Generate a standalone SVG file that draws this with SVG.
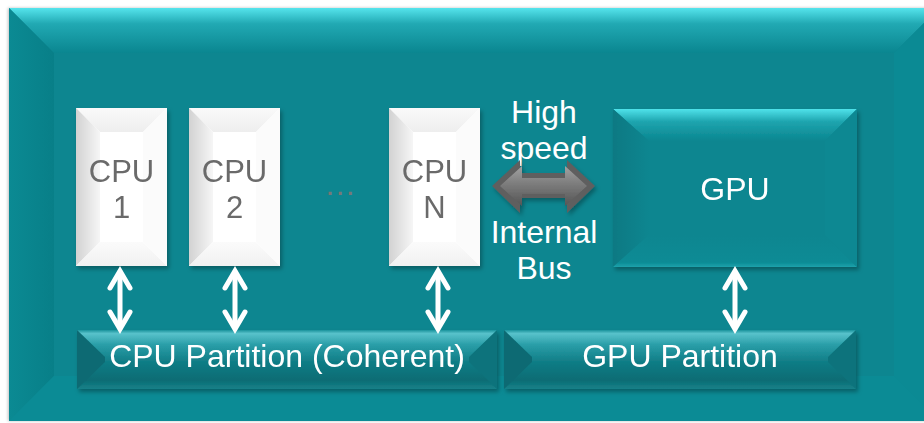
<svg xmlns="http://www.w3.org/2000/svg" xmlns:xlink="http://www.w3.org/1999/xlink" width="924" height="423" viewBox="0 0 924 423">
<defs>
<style>
.t{font-family:"Liberation Sans",Arial,sans-serif;font-size:32px;text-anchor:middle;fill:#ffffff}
.cpu{font-family:"Liberation Sans",Arial,sans-serif;font-size:31px;text-anchor:middle;fill:#6b6b6b}
.dots{font-family:"Liberation Sans",Arial,sans-serif;font-size:32px;text-anchor:middle;fill:#777777}
.wa{fill:none;stroke:#ffffff;stroke-width:5;stroke-linecap:round;stroke-linejoin:miter}
</style>
<linearGradient id="panelTop" x1="0" y1="0" x2="0" y2="1">
<stop offset="0" stop-color="#55e4ec"/><stop offset="0.35" stop-color="#21a9b3"/><stop offset="1" stop-color="#0a8690"/>
</linearGradient>
<linearGradient id="panelLeft" x1="0" y1="0" x2="1" y2="0">
<stop offset="0" stop-color="#0b8a93"/><stop offset="1" stop-color="#087f88"/>
</linearGradient>
<linearGradient id="whiteLeft" x1="0" y1="0" x2="1" y2="0">
<stop offset="0" stop-color="#d2d2d2"/><stop offset="1" stop-color="#f6f6f6"/>
</linearGradient>
<linearGradient id="whiteTop" x1="0" y1="0" x2="0" y2="1">
<stop offset="0" stop-color="#fafafa"/><stop offset="1" stop-color="#eeeeee"/>
</linearGradient>
<linearGradient id="whiteBottom" x1="0" y1="0" x2="0" y2="1">
<stop offset="0" stop-color="#fbfbfb"/><stop offset="1" stop-color="#f1f1f1"/>
</linearGradient>
<linearGradient id="gpuTop" x1="0" y1="0" x2="0" y2="1">
<stop offset="0" stop-color="#4fe2ea"/><stop offset="0.4" stop-color="#1ea4ae"/><stop offset="1" stop-color="#0a8690"/>
</linearGradient>
<linearGradient id="gpuLeft" x1="0" y1="0" x2="1" y2="0">
<stop offset="0" stop-color="#077983"/><stop offset="1" stop-color="#0a8690"/>
</linearGradient>
<linearGradient id="gpuBottom" x1="0" y1="0" x2="0" y2="1">
<stop offset="0" stop-color="#0a8690"/><stop offset="0.85" stop-color="#0c8b95"/><stop offset="1" stop-color="#1ca2ab"/>
</linearGradient>
<linearGradient id="bar" x1="0" y1="0" x2="0" y2="1">
<stop offset="0" stop-color="#1b939c"/><stop offset="0.06" stop-color="#58c2cb"/><stop offset="0.25" stop-color="#2a9ea8"/><stop offset="0.55" stop-color="#0f7c85"/><stop offset="0.85" stop-color="#0a6c74"/><stop offset="1" stop-color="#178189"/>
</linearGradient>
<linearGradient id="busFill" x1="0" y1="0" x2="0" y2="1">
<stop offset="0" stop-color="#a2a2a2"/><stop offset="0.45" stop-color="#7c7c7c"/><stop offset="1" stop-color="#555555"/>
</linearGradient>
<filter id="sh" x="-10%" y="-10%" width="130%" height="130%">
<feDropShadow dx="2" dy="3" stdDeviation="2" flood-color="#000000" flood-opacity="0.3"/>
</filter>
<filter id="psh" x="-5%" y="-5%" width="110%" height="110%">
<feDropShadow dx="-1" dy="0" stdDeviation="1.5" flood-color="#000000" flood-opacity="0.25"/>
</filter>
<g id="varrow">
<line class="wa" x1="0" y1="272" x2="0" y2="328"/>
<polyline class="wa" points="-10,288 0,271 10,288"/>
<polyline class="wa" points="-10,312 0,329 10,312"/>
</g>
</defs>

<!-- outer panel -->
<g id="panel">
<rect x="9" y="8" width="930" height="413" fill="#0a8690" filter="url(#psh)"/>
<polygon points="9,8 939,8 894,53 54,53" fill="url(#panelTop)"/>
<polygon points="9,8 54,53 54,376 9,421" fill="url(#panelLeft)"/>
<polygon points="939,8 894,53 894,376 939,421" fill="#0b8a94"/>
<polygon points="9,421 54,376 894,376 939,421" fill="#0b8b95"/>
</g>

<!-- CPU boxes -->
<g id="cpu1" filter="url(#sh)">
<rect x="76" y="108" width="91" height="158" fill="#ffffff"/>
<polygon points="76,108 167,108 143,132 100,132" fill="url(#whiteTop)"/>
<polygon points="76,108 100,132 100,242 76,266" fill="url(#whiteLeft)"/>
<polygon points="76,266 100,242 143,242 167,266" fill="url(#whiteBottom)"/>
<polygon points="167,108 143,132 143,242 167,266" fill="#fbfbfb"/>
<text class="cpu" x="121.5" y="182">CPU</text>
<text class="cpu" x="121.5" y="218">1</text>
</g>
<g id="cpu2" filter="url(#sh)">
<rect x="189" y="108" width="91" height="158" fill="#ffffff"/>
<polygon points="189,108 280,108 256,132 213,132" fill="url(#whiteTop)"/>
<polygon points="189,108 213,132 213,242 189,266" fill="url(#whiteLeft)"/>
<polygon points="189,266 213,242 256,242 280,266" fill="url(#whiteBottom)"/>
<polygon points="280,108 256,132 256,242 280,266" fill="#fbfbfb"/>
<text class="cpu" x="234.5" y="182">CPU</text>
<text class="cpu" x="234.5" y="218">2</text>
</g>
<g id="ellipsis">
<text class="dots" x="340" y="195">…</text>
</g>
<g id="cpuN" filter="url(#sh)">
<rect x="389" y="108" width="91" height="158" fill="#ffffff"/>
<polygon points="389,108 480,108 456,132 413,132" fill="url(#whiteTop)"/>
<polygon points="389,108 413,132 413,242 389,266" fill="url(#whiteLeft)"/>
<polygon points="389,266 413,242 456,242 480,266" fill="url(#whiteBottom)"/>
<polygon points="480,108 456,132 456,242 480,266" fill="#fbfbfb"/>
<text class="cpu" x="434.5" y="182">CPU</text>
<text class="cpu" x="434.5" y="218">N</text>
</g>

<!-- GPU -->
<g id="gpu" filter="url(#sh)">
<rect x="613" y="109" width="244" height="158" fill="#0a8690"/>
<polygon points="613,109 857,109 825,141 649,141" fill="url(#gpuTop)"/>
<polygon points="613,109 649,141 649,235 613,267" fill="url(#gpuLeft)"/>
<polygon points="613,267 649,235 825,235 857,267" fill="url(#gpuBottom)"/>
<polygon points="857,109 825,141 825,235 857,267" fill="#0b8892"/>
<text class="t" x="735" y="200">GPU</text>
</g>

<!-- partitions -->
<g id="cpuPartition" filter="url(#sh)">
<rect x="77" y="330" width="420" height="59" fill="url(#bar)"/>
<polygon points="77,330 105,357 105,362 77,389" fill="#0a6b73"/>
<polygon points="497,330 469,357 469,362 497,389" fill="#0c737b"/>
<text class="t" x="287" y="367">CPU Partition (Coherent)</text>
</g>
<g id="gpuPartition" filter="url(#sh)">
<rect x="504" y="330" width="352" height="59" fill="url(#bar)"/>
<polygon points="504,330 532,357 532,362 504,389" fill="#0a6b73"/>
<polygon points="856,330 828,357 828,362 856,389" fill="#0c737b"/>
<text class="t" x="680" y="367">GPU Partition</text>
</g>

<!-- bus label -->
<g id="busLabel">
<text class="t" x="544" y="123">High</text>
<text class="t" x="544" y="159">speed</text>
<text class="t" x="544" y="243">Internal</text>
<text class="t" x="544" y="279">Bus</text>
</g>

<!-- connectors -->
<g id="connectors">
<g id="bus" filter="url(#sh)">
<polygon points="492,186 520,160 520,173 567,173 567,160 595,186 567,213 567,198 520,198 520,213" fill="#5e5e5e"/>
<polygon points="500,186 522,166 522,178 565,178 565,166 587,186 565,206 565,194 522,194 522,206" fill="url(#busFill)"/>
</g>
<use xlink:href="#varrow" x="120"/>
<use xlink:href="#varrow" x="235"/>
<use xlink:href="#varrow" x="438"/>
<use xlink:href="#varrow" x="735"/>
</g>
</svg>
